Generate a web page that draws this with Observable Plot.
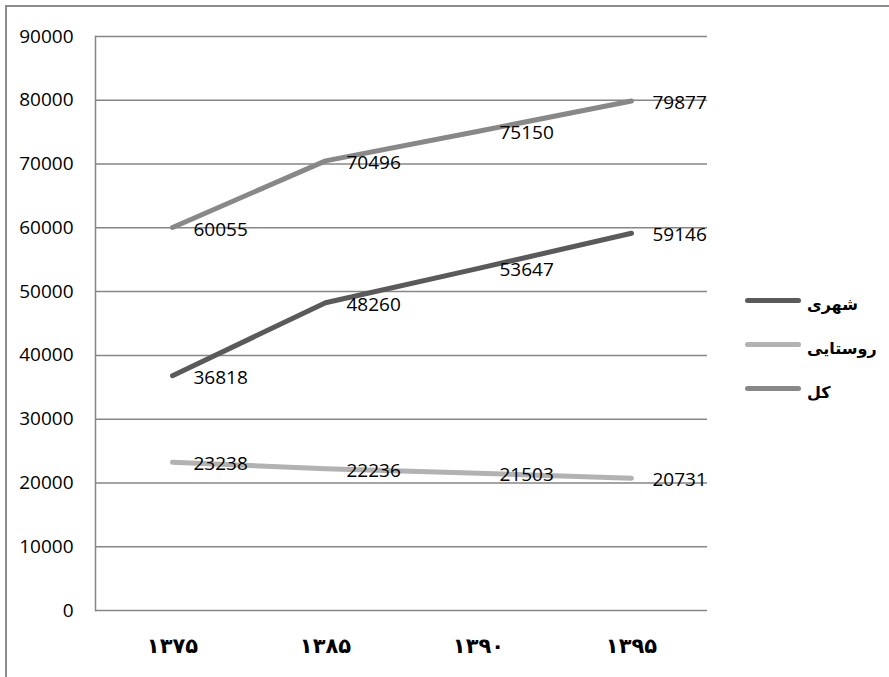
<!DOCTYPE html>
<html>
<head>
<meta charset="utf-8">
<script src="https://cdn.jsdelivr.net/npm/d3@7"></script>
<script src="https://cdn.jsdelivr.net/npm/@observablehq/plot@0.6"></script>
<style>
  html, body { margin: 0; padding: 0; background: #fff; }
  #wrap { position: relative; width: 889px; height: 677px; overflow: hidden; }
  #frame { position: absolute; left: 5px; top: 5px; width: 900px; height: 700px;
           border-top: 2px solid #8c8c8c; border-left: 2px solid #8c8c8c; pointer-events: none; }
  #legend { position: absolute; left: 745px; top: 278px; }
  .item { display: flex; align-items: center; height: 44px; }
  .swatch { width: 56px; height: 5px; border-radius: 3px; }
  .lab { margin-left: 6px; margin-top: 8px; font-family: "DejaVu Sans", sans-serif; font-weight: bold; font-size: 16px; direction: rtl; color: #000; }
</style>
</head>
<body>
<div id="wrap"><div id="frame"></div><div id="legend"></div></div>
<script>
const years = ["1375", "1385", "1390", "1395"];
const yearLabels = ["۱۳۷۵", "۱۳۸۵", "۱۳۹۰", "۱۳۹۵"];
const seriesNames = ["شهری", "روستایی", "کل"];
const seriesColors = ["#5a5a5a", "#b2b2b2", "#888888"];
const urban = [36818, 48260, 53647, 59146];
const rural = [23238, 22236, 21503, 20731];
const total = [60055, 70496, 75150, 79877];
const yTicks = [0, 10000, 20000, 30000, 40000, 50000, 60000, 70000, 80000, 90000];

const seriesValues = [urban, rural, total];
const data = [];
seriesNames.forEach((s, si) => years.forEach((y, i) => data.push({series: s, year: y, value: seriesValues[si][i]})));

const labelFont = "'Open Sans', sans-serif";

const chart = Plot.plot({
  width: 889,
  height: 677,
  marginLeft: 95,
  marginRight: 182,
  marginTop: 36,
  marginBottom: 67,
  style: {background: "transparent", overflow: "visible"},
  x: {type: "point", domain: years, padding: 0.5, label: null},
  y: {domain: [0, 90000], label: null},
  color: {domain: seriesNames, range: seriesColors},
  marks: [
    Plot.ruleY(yTicks, {stroke: "#868686", strokeWidth: 1.5}),
    Plot.frame({anchor: "left", stroke: "#868686", strokeWidth: 1.5}),
    Plot.axisY({ticks: yTicks, tickSize: 0, tickPadding: 22, tickFormat: d => String(d), label: null,
      fontSize: 19, fontFamily: labelFont, fill: "#000"}),
    Plot.axisX({tickSize: 0, tickPadding: 28, tickFormat: d => yearLabels[years.indexOf(d)], label: null,
      fontSize: 21, fontWeight: "bold", fontFamily: "'DejaVu Sans', sans-serif", fill: "#000"}),
    Plot.line(data, {x: "year", y: "value", z: "series", stroke: "series", strokeWidth: 5, strokeLinecap: "round", strokeLinejoin: "round"}),
    Plot.text(data, {x: "year", y: "value", text: d => String(d.value), textAnchor: "start", dx: 21, dy: 2,
      fontSize: 19, fontFamily: labelFont, fill: "#000"})
  ]
});
document.getElementById("wrap").insertBefore(chart, document.getElementById("frame"));
chart.style.position = "absolute";
chart.style.left = "0";
chart.style.top = "0";

const legend = document.getElementById("legend");
seriesNames.forEach((s, i) => {
  const row = document.createElement("div");
  row.className = "item";
  const sw = document.createElement("div");
  sw.className = "swatch";
  sw.style.background = seriesColors[i];
  const lb = document.createElement("span");
  lb.className = "lab";
  lb.textContent = s;
  row.appendChild(sw);
  row.appendChild(lb);
  legend.appendChild(row);
});
</script>
</body>
</html>
